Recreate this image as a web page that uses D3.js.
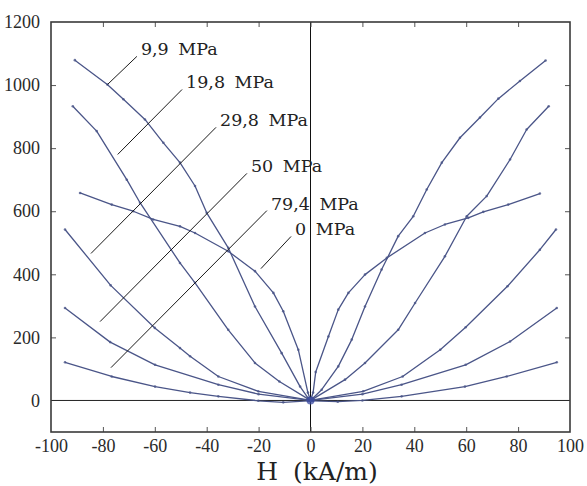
<!DOCTYPE html>
<html>
<head>
<meta charset="utf-8">
<script src="https://cdn.jsdelivr.net/npm/d3@7"></script>
<style>
  html, body { margin: 0; padding: 0; background: #fff; }
  svg { display: block; }
</style>
</head>
<body>
<div id="chart"></div>
<script>
// ---------------- data ----------------
const seriesNames = ["9,9 MPa", "19,8 MPa", "29,8 MPa", "50 MPa", "79,4 MPa", "0 MPa"];

const h_9_9 = [-90.8,-78.3,-72.1,-63.8,-56.7,-50.3,-44.5,-40,-31.7,-21.4,-11.1,-4,-1,0,1,4.3,10.7,15.9,21,27.4,33.8,39.6,44.8,50.6,57.6,65.3,72.4,80.7,90.6];
const b_9_9 = [1079,1002,955,891,817,754,680,595,484,298,150,44,8,0,8,34,108,193,298,415,521,584,669,754,833,897,957,1013,1078];

const h_19_8 = [-91.6,-82.4,-70.8,-65.7,-50.3,-44.5,-31.7,-21.4,-12,-1,0,1,13.3,21,33.8,40.3,51.8,60.2,67.9,76.9,83.3,91.8];
const b_19_8 = [933,854,700,627,436,373,224,119,60,5,0,5,66,119,224,309,457,584,648,764,859,933];

const h_29_8 = [-94.6,-77,-60,-50.3,-46.4,-35.5,-20.1,-1,0,1,20.3,35.5,50,59.8,75.9,88.4,94.6];
const b_29_8 = [542,365,230,166,140,76,29,2,0,2,29,76,161,232,362,478,542];

const h_50 = [-94.6,-77.2,-59.9,-35.5,-20,-1,0,1,20,35.1,59.8,76.9,94.9];
const b_50 = [293,185,113,50,20,1,0,1,20,50,113,187,293];

const h_79_4 = [-94.6,-76.6,-59.9,-46.4,-35.5,-20.1,-10.5,-1,0,1,10.5,20,35.1,59.5,75.6,94.9];
const b_79_4 = [121,76,44,25,13,-1,-6,-1,0,-1,-4,0,13,44,76,121];

const h_0 = [-88.8,-76.6,-68.3,-60.6,-50.3,-44.5,-31.7,-21.4,-14.3,-10.5,-4.7,-1,0,1,2,6.9,10.7,14.6,21,29.4,44.1,51.8,60.8,66.6,76.2,88.4];
const b_0 = [658,621,600,574,552,531,473,410,341,283,161,25,0,25,90,203,288,341,399,452,531,558,579,598,621,656];

// annotation leader lines, in data units: [H, B] of the upper and lower ends
const leaderStart = [[-66.9,1091],[-49.5,986],[-36.4,866],[-24.5,720],[-16.8,602],[-7.5,520]];
const leaderEnd   = [[-78.2,1002],[-74.3,780],[-84.6,466],[-81.1,250],[-76.9,104],[-19.1,418]];

const xTicks = [-100,-80,-60,-40,-20,0,20,40,60,80,100];
const yTicks = [0,200,400,600,800,1000,1200];
const xTitle = "H (kA/m)";

// ---------------- chart ----------------
const W = 587, H = 486;
const x = d3.scaleLinear().domain([-100,100]).range([51,570]);
const y = d3.scaleLinear().domain([-100,1200]).range([432,22]);

const svg = d3.select("#chart").append("svg").attr("width", W).attr("height", H);

const series = [
  {name: seriesNames[0], h: h_9_9, b: b_9_9},
  {name: seriesNames[1], h: h_19_8, b: b_19_8},
  {name: seriesNames[2], h: h_29_8, b: b_29_8},
  {name: seriesNames[3], h: h_50, b: b_50},
  {name: seriesNames[4], h: h_79_4, b: b_79_4},
  {name: seriesNames[5], h: h_0, b: b_0}
].map(s => ({name: s.name, pts: s.h.map((v,i) => [v, s.b[i]])}));

// zero lines
svg.append("line").attr("x1", x(-100)).attr("x2", x(100)).attr("y1", y(0)).attr("y2", y(0))
  .attr("stroke", "#222").attr("stroke-width", 1);
svg.append("line").attr("x1", x(0)).attr("x2", x(0)).attr("y1", y(-100)).attr("y2", y(1200))
  .attr("stroke", "#111").attr("stroke-width", 1);

// axes (ticks inward)
const fmt = d => String(d);
const axB = svg.append("g").attr("transform", `translate(0,${y(-100)})`)
  .call(d3.axisBottom(x).tickValues(xTicks).tickSize(-5).tickPadding(7).tickFormat(fmt));
const axT = svg.append("g").attr("transform", `translate(0,${y(1200)})`)
  .call(d3.axisTop(x).tickValues(xTicks).tickSize(-5).tickFormat(""));
const axL = svg.append("g").attr("transform", `translate(${x(-100)},0)`)
  .call(d3.axisLeft(y).tickValues(yTicks).tickSize(-5).tickPadding(11).tickFormat(fmt));
const axR = svg.append("g").attr("transform", `translate(${x(100)},0)`)
  .call(d3.axisRight(y).tickValues(yTicks).tickSize(-5).tickFormat(""));

[axB, axT, axL, axR].forEach(g => {
  g.select(".domain").remove();
  g.selectAll(".tick line").attr("stroke", "#555").attr("stroke-width", 1);
  g.selectAll(".tick text").attr("fill", "#2a2a2a")
    .style("font-family", "'Liberation Serif', 'Times New Roman', serif").style("font-size", "18px");
});
// hide edge ticks that coincide with the frame
axB.selectAll(".tick").filter(d => d === -100 || d === 100).select("line").remove();
axT.selectAll(".tick").filter(d => d === -100 || d === 100).select("line").remove();
axL.selectAll(".tick").filter(d => d === 1200 || d === 0).select("line").remove();
axR.selectAll(".tick").filter(d => d === 1200 || d === 0).select("line").remove();

// frame
svg.append("rect").attr("x", x(-100)).attr("y", y(1200))
  .attr("width", x(100) - x(-100)).attr("height", y(-100) - y(1200))
  .attr("fill", "none").attr("stroke", "#3a3a3a").attr("stroke-width", 1.6);

// curves
const line = d3.line().x(d => x(d[0])).y(d => y(d[1]));
const curveColor = "#4a5588";
const gC = svg.append("g");
series.forEach(s => {
  gC.append("path").attr("d", line(s.pts)).attr("fill", "none")
    .attr("stroke", curveColor).attr("stroke-width", 1.3).attr("stroke-linejoin", "round");
  gC.selectAll(null).data(s.pts).enter().append("circle")
    .attr("cx", d => x(d[0])).attr("cy", d => y(d[1])).attr("r", 1.3)
    .attr("fill", curveColor).attr("opacity", 0.8);
});
// dense markers at the origin
svg.append("circle").attr("cx", x(0)).attr("cy", y(0)).attr("r", 4)
  .attr("fill", "#3a4aa0").attr("opacity", 0.75);

// annotations
const gA = svg.append("g");
seriesNames.forEach((name, i) => {
  const s = leaderStart[i], e = leaderEnd[i];
  gA.append("line").attr("x1", x(s[0])).attr("y1", y(s[1])).attr("x2", x(e[0])).attr("y2", y(e[1]))
    .attr("stroke", "#1a1a1a").attr("stroke-width", 1);
  gA.append("text").attr("x", x(s[0]) + 4).attr("y", y(s[1]) - 1)
    .text(name)
    .style("font-family", "'DejaVu Serif', serif").style("font-size", "17.5px")
    .style("word-spacing", "4px").attr("fill", "#222");
});

// axis title
svg.append("text").attr("x", 317).attr("y", 480).attr("text-anchor", "middle")
  .text(xTitle)
  .style("font-family", "'DejaVu Serif', serif").style("font-size", "25px")
  .style("word-spacing", "7px").attr("fill", "#222");
</script>
</body>
</html>
